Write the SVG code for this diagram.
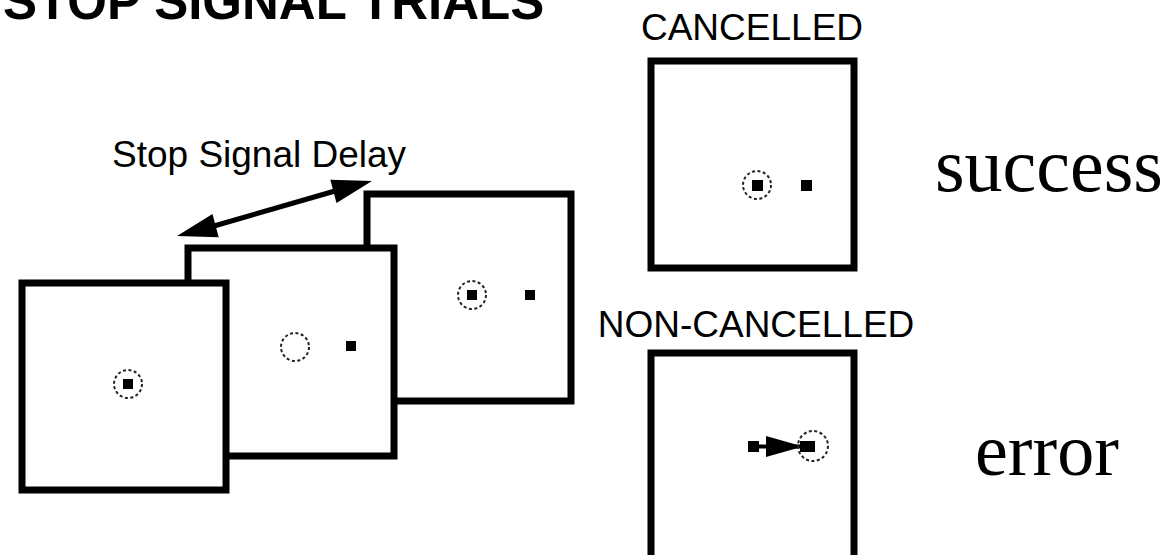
<svg xmlns="http://www.w3.org/2000/svg" width="1172" height="555" viewBox="0 0 1172 555">
<style>
.frame{fill:#fff;stroke:#000;stroke-width:7}
.fix{fill:none;stroke:#222;stroke-width:2;stroke-dasharray:3 2.5}
.dot{fill:#000}
.sans{font-family:"Liberation Sans",Arial,sans-serif;fill:#000}
.serif{font-family:"Liberation Serif","Times New Roman",serif;fill:#000}
</style>
<rect width="1172" height="555" fill="#fff"/>
<text class="sans" x="3" y="19" font-size="51" font-weight="bold">STOP SIGNAL TRIALS</text>
<text class="sans" x="112" y="167" font-size="37">Stop Signal Delay</text>
<g id="trial3">
<rect class="frame" x="367" y="194" width="204" height="207"/>
<circle class="fix" cx="472" cy="295" r="14"/>
<rect class="dot" x="467" y="290" width="10" height="10"/>
<rect class="dot" x="525" y="290" width="10" height="10"/>
</g>
<g id="trial2">
<rect class="frame" x="188" y="248" width="206" height="208"/>
<circle class="fix" cx="295" cy="347" r="14"/>
<rect class="dot" x="346" y="341" width="10" height="10"/>
</g>
<g id="trial1">
<rect class="frame" x="22" y="283" width="204" height="207"/>
<circle class="fix" cx="128" cy="384" r="14"/>
<rect class="dot" x="123" y="379" width="10" height="10"/>
</g>
<g id="connectors">
<line x1="214" y1="226" x2="335" y2="191" stroke="#000" stroke-width="5"/>
<polygon points="177,236 218.7,237.2 212.5,214" fill="#000"/>
<polygon points="372,181 336.5,203 330.3,179.8" fill="#000"/>
</g>
<g id="cancelled">
<text class="sans" x="752" y="40" font-size="37" text-anchor="middle">CANCELLED</text>
<rect class="frame" x="651" y="61" width="203" height="207"/>
<circle class="fix" cx="757" cy="185" r="14"/>
<rect class="dot" x="752" y="180" width="11" height="11"/>
<rect class="dot" x="801" y="180" width="11" height="11"/>
<text class="serif" x="935" y="191" font-size="76">success</text>
</g>
<g id="noncancelled">
<text class="sans" x="756" y="337" font-size="37" text-anchor="middle">NON-CANCELLED</text>
<rect class="frame" x="651" y="353" width="203" height="215"/>
<rect class="dot" x="748" y="441" width="11" height="11"/>
<line x1="755" y1="446.5" x2="812" y2="446.5" stroke="#000" stroke-width="4"/>
<polygon points="766,436 803,446.5 766,457" fill="#000"/>
<rect class="dot" x="800" y="441" width="15" height="11"/>
<circle class="fix" cx="813" cy="446" r="15"/>
<text class="serif" x="975" y="475" font-size="74">error</text>
</g>
</svg>
